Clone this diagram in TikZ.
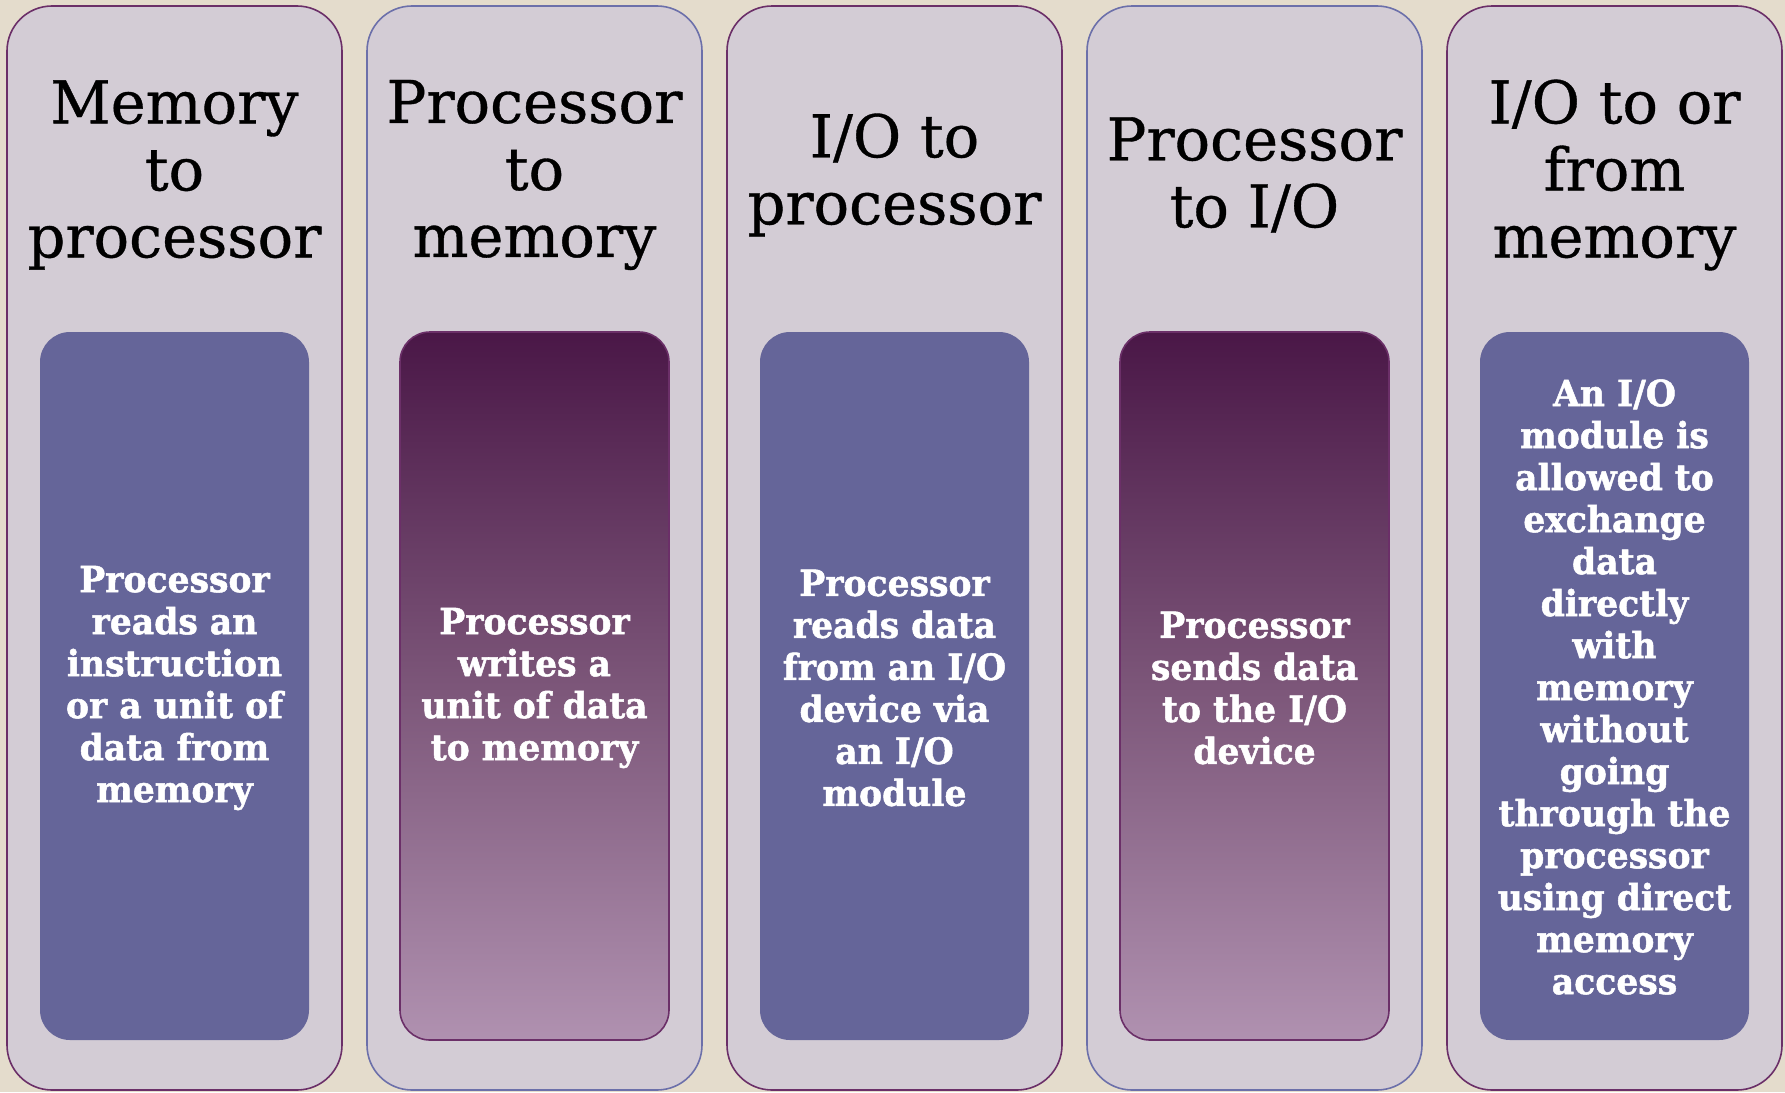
\documentclass[tikz,border=0pt]{standalone}
\usepackage{fontspec}
\setmainfont{DejaVu Serif}
\newfontfamily\headfont[FakeBold=0.6]{DejaVu Serif}
\newfontfamily\bodyfont[FakeStretch=0.96,FakeBold=1.4]{DejaVu Serif}
\definecolor{bgcol}{HTML}{E4DCCC}
\definecolor{colfill}{HTML}{D3CCD5}
\definecolor{borderP}{HTML}{6B2F68}
\definecolor{borderB}{HTML}{6C70AA}
\definecolor{innerblue}{HTML}{656599}
\definecolor{gtop}{HTML}{4A1747}
\definecolor{gmid}{HTML}{7C5679}
\definecolor{gbot}{HTML}{B091B0}
\tikzset{
  colbox/.style={rounded corners=45pt, fill=colfill, line width=1.6pt,
    minimum width=335pt, minimum height=1084pt, inner sep=0pt},
  colP/.style={colbox, draw=borderP},
  colB/.style={colbox, draw=borderB},
  head/.style={font=\headfont\fontsize{59}{67}\selectfont, align=center, text=black, inner sep=0pt},
  innerbox/.style={rounded corners=30pt, minimum width=269pt, minimum height=708pt, inner sep=0pt},
  innerB/.style={innerbox, fill=innerblue},
  innerG/.style={innerbox, draw=borderP, line width=1.6pt, top color=gtop, bottom color=gbot, middle color=gmid},
  body/.style={font=\bodyfont\bfseries\fontsize{36}{42}\selectfont, align=center, text=white, inner sep=0pt}
}
\begin{document}
\begin{tikzpicture}[x=1pt,y=-1pt]
\fill[bgcol] (0,0) rectangle (1785,1092);
\useasboundingbox (0,0) rectangle (1785,1092);

% columns
\node[colP] (c1) at (174.5,548) {};
\node[colB] (c2) at (534.5,548) {};
\node[colP] (c3) at (894.5,548) {};
\node[colB] (c4) at (1254.5,548) {};
\node[colP] (c5) at (1614.5,548) {};

% headings
\node[head] (h1) at (174.5,175) {Memory\\to\\processor};
\node[head] (h2) at (534.5,175) {Processor\\to\\memory};
\node[head] (h3) at (894.5,175) {I/O to\\processor};
\node[head] (h4) at (1254.5,175) {Processor\\to I/O};
\node[head] (h5) at (1614.5,175) {I/O to or\\from\\memory};

% inner boxes
\node[innerB] (b1) at (174.5,686) {};
\node[innerG] (b2) at (534.5,686) {};
\node[innerB] (b3) at (894.5,686) {};
\node[innerG] (b4) at (1254.5,686) {};
\node[innerB] (b5) at (1614.5,686) {};

% body texts
\node[body] (t1) at ([yshift=-2pt]b1.center) {Processor\\reads an\\instruction\\or a unit of\\data from\\memory};
\node[body] (t2) at ([yshift=-2pt]b2.center) {Processor\\writes a\\unit of data\\to memory};
\node[body] (t3) at ([yshift=-2pt]b3.center) {Processor\\reads data\\from an I/O\\device via\\an I/O\\module};
\node[body] (t4) at ([yshift=-2pt]b4.center) {Processor\\sends data\\to the I/O\\device};
\node[body] (t5) at ([yshift=-1pt]b5.center) {An I/O\\module is\\allowed to\\exchange\\data\\directly\\with\\memory\\without\\going\\through the\\processor\\using direct\\memory\\access};
\end{tikzpicture}
\end{document}
